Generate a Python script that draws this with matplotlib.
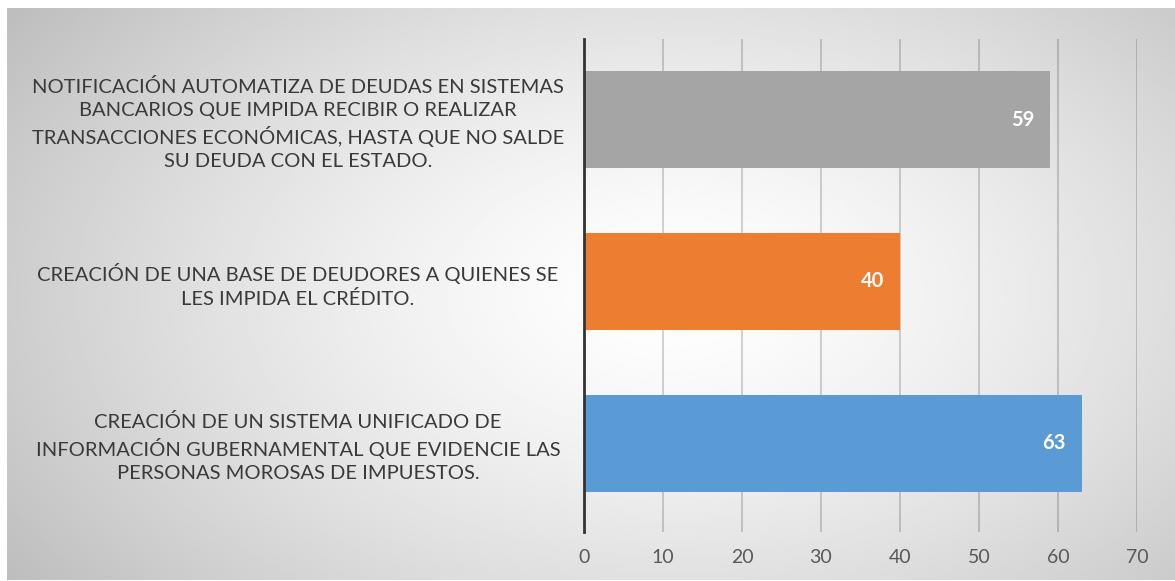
import numpy as np
import matplotlib.pyplot as plt

categorias = [
    "CREACIÓN DE UN SISTEMA UNIFICADO DE\nINFORMACIÓN GUBERNAMENTAL QUE EVIDENCIE LAS\nPERSONAS MOROSAS DE IMPUESTOS.",
    "CREACIÓN DE UNA BASE DE DEUDORES A QUIENES SE\nLES IMPIDA EL CRÉDITO.",
    "NOTIFICACIÓN AUTOMATIZA DE DEUDAS EN SISTEMAS\nBANCARIOS QUE IMPIDA RECIBIR O REALIZAR\nTRANSACCIONES ECONÓMICAS, HASTA QUE NO SALDE\nSU DEUDA CON EL ESTADO.",
]
valores = [63, 40, 59]
colores = ["#5b9bd5", "#ed7d31", "#a5a5a5"]
xticks = [0, 10, 20, 30, 40, 50, 60, 70]

W, H = 1175, 581
fig = plt.figure(figsize=(W / 100, H / 100), dpi=100)
fig.patch.set_facecolor("white")

# radial grey background
bg = fig.add_axes([7 / W, 1 / H, (W - 7) / W, (H - 9) / H])
gx, gy = np.meshgrid(np.linspace(0, 1, 400), np.linspace(0, 1, 200))
r = np.sqrt(((gx - 0.57) / 0.6) ** 2 + ((gy - 0.5) / 0.75) ** 2)
shade = np.clip(1 - 0.21 * r ** 1.4, 0, 1)
bg.imshow(shade, cmap="gray", vmin=0, vmax=1, aspect="auto", extent=[0, 1, 1, 0])
bg.set_axis_off()

ax = fig.add_axes([584 / W, 1 - 532 / H, (1137 - 584) / W, (532 - 39) / H])
ax.patch.set_alpha(0)
y = np.arange(len(categorias))
bars = ax.barh(y, valores, height=0.6, color=colores, zorder=3)

for b, v in zip(bars, valores):
    ax.text(b.get_width() - 2.0, b.get_y() + b.get_height() / 2, str(v),
            ha="right", va="center", color="white", fontsize=14.5,
            fontweight="bold", family="Lato", zorder=4)

ax.set_xlim(0, 70)
ax.set_ylim(-0.55, 2.5)
ax.set_xticks(xticks)
ax.set_yticks(y)
ax.set_yticklabels(categorias, ha="center", fontsize=14.5, color="#3a3a3a",
                   family="Lato", linespacing=1.4)
ax.tick_params(axis="y", length=0, pad=206)
ax.tick_params(axis="x", length=0, pad=12, labelsize=14, labelcolor="#595959")
for t in ax.get_xticklabels():
    t.set_family("Lato")
ax.grid(axis="x", color="black", alpha=0.2, linewidth=1.2, zorder=1)
for s in ["top", "right", "bottom"]:
    ax.spines[s].set_visible(False)
ax.spines["left"].set_color("#333333")
ax.spines["left"].set_linewidth(2)
ax.spines["left"].set_zorder(5)

fig.savefig("out.png", dpi=100)
